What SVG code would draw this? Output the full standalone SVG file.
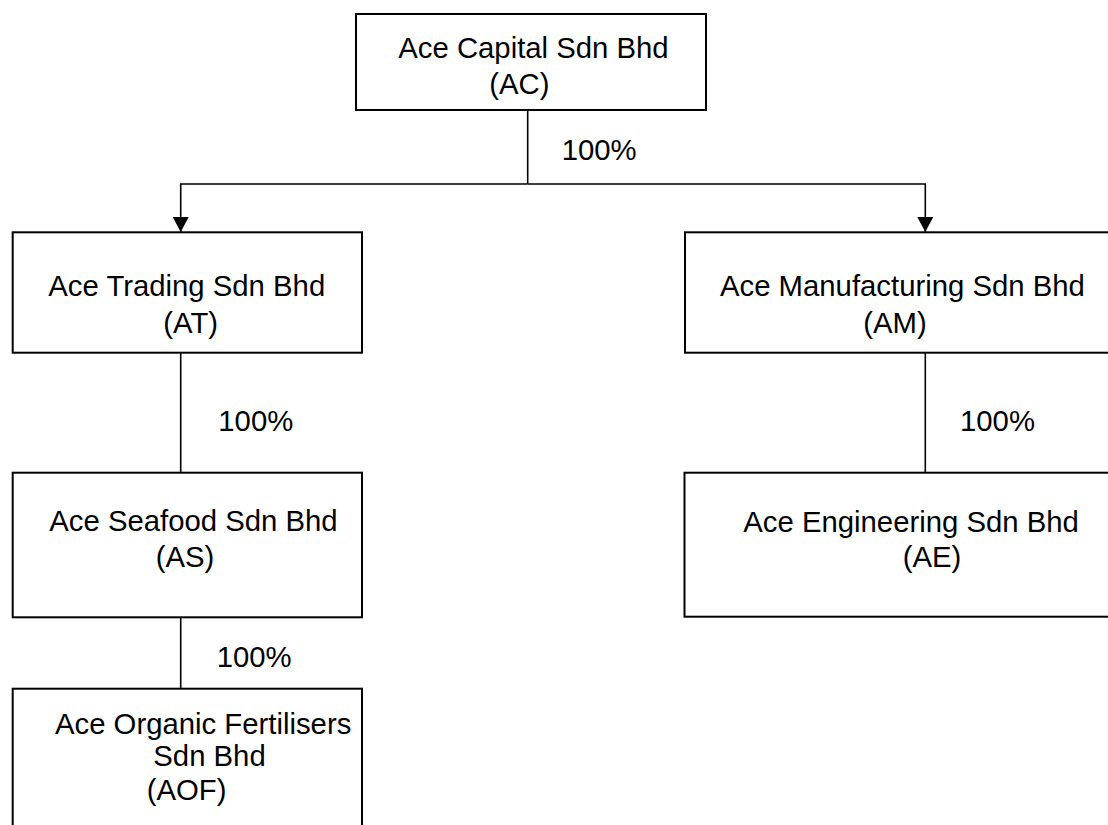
<svg xmlns="http://www.w3.org/2000/svg" width="1108" height="825" viewBox="0 0 1108 825">
<defs>
<style>
.box{fill:#ffffff;stroke:#000000;stroke-width:2}
.con{fill:none;stroke:#000000;stroke-width:1.6}
text{font-family:"Liberation Sans",Arial,sans-serif;font-size:29.3px;fill:#000000}
</style>
<marker id="arr" markerUnits="userSpaceOnUse" markerWidth="16" markerHeight="16" viewBox="0 0 16 16" refX="15" refY="8" orient="auto">
<path d="M0,0 L15,8 L0,16 Z" fill="#000000"/>
</marker>
</defs>
<rect width="1108" height="825" fill="#ffffff"/>
<g id="connectors">
<line class="con" x1="527.7" y1="110" x2="527.7" y2="184"/>
<path class="con" d="M527.7,184 L180.7,184 L180.7,232" marker-end="url(#arr)"/>
<path class="con" d="M527.7,184 L925.3,184 L925.3,232" marker-end="url(#arr)"/>
<line class="con" x1="180.7" y1="352.7" x2="180.7" y2="472.7"/>
<line class="con" x1="180.7" y1="617.3" x2="180.7" y2="688.7"/>
<line class="con" x1="925.3" y1="352.7" x2="925.3" y2="472.7"/>
<text x="561.7" y="160">100%</text>
<text x="218.3" y="431">100%</text>
<text x="960" y="431">100%</text>
<text x="216.7" y="666.7">100%</text>
</g>
<g id="node-ac">
<rect class="box" x="356" y="14" width="350" height="96"/>
<text x="398.3" y="58.3">Ace Capital Sdn Bhd</text>
<text x="489.3" y="93.5">(AC)</text>
</g>
<g id="node-at">
<rect class="box" x="12.7" y="232.3" width="349.3" height="120.4"/>
<text x="48.3" y="296">Ace Trading Sdn Bhd</text>
<text x="163.3" y="333">(AT)</text>
</g>
<g id="node-am">
<rect class="box" x="685" y="232.3" width="480" height="120.4"/>
<text x="720" y="296">Ace Manufacturing Sdn Bhd</text>
<text x="863.3" y="333">(AM)</text>
</g>
<g id="node-as">
<rect class="box" x="12.7" y="472.7" width="349.3" height="144.6"/>
<text x="49.3" y="531">Ace Seafood Sdn Bhd</text>
<text x="155.7" y="567">(AS)</text>
</g>
<g id="node-ae">
<rect class="box" x="684.5" y="472.7" width="480" height="144"/>
<text x="743.3" y="531.7">Ace Engineering Sdn Bhd</text>
<text x="902.7" y="566.7">(AE)</text>
</g>
<g id="node-aof">
<rect class="box" x="12.7" y="688.7" width="349.3" height="180"/>
<text x="55" y="734">Ace Organic Fertilisers</text>
<text x="153.3" y="766">Sdn Bhd</text>
<text x="146.7" y="800">(AOF)</text>
</g>
</svg>
